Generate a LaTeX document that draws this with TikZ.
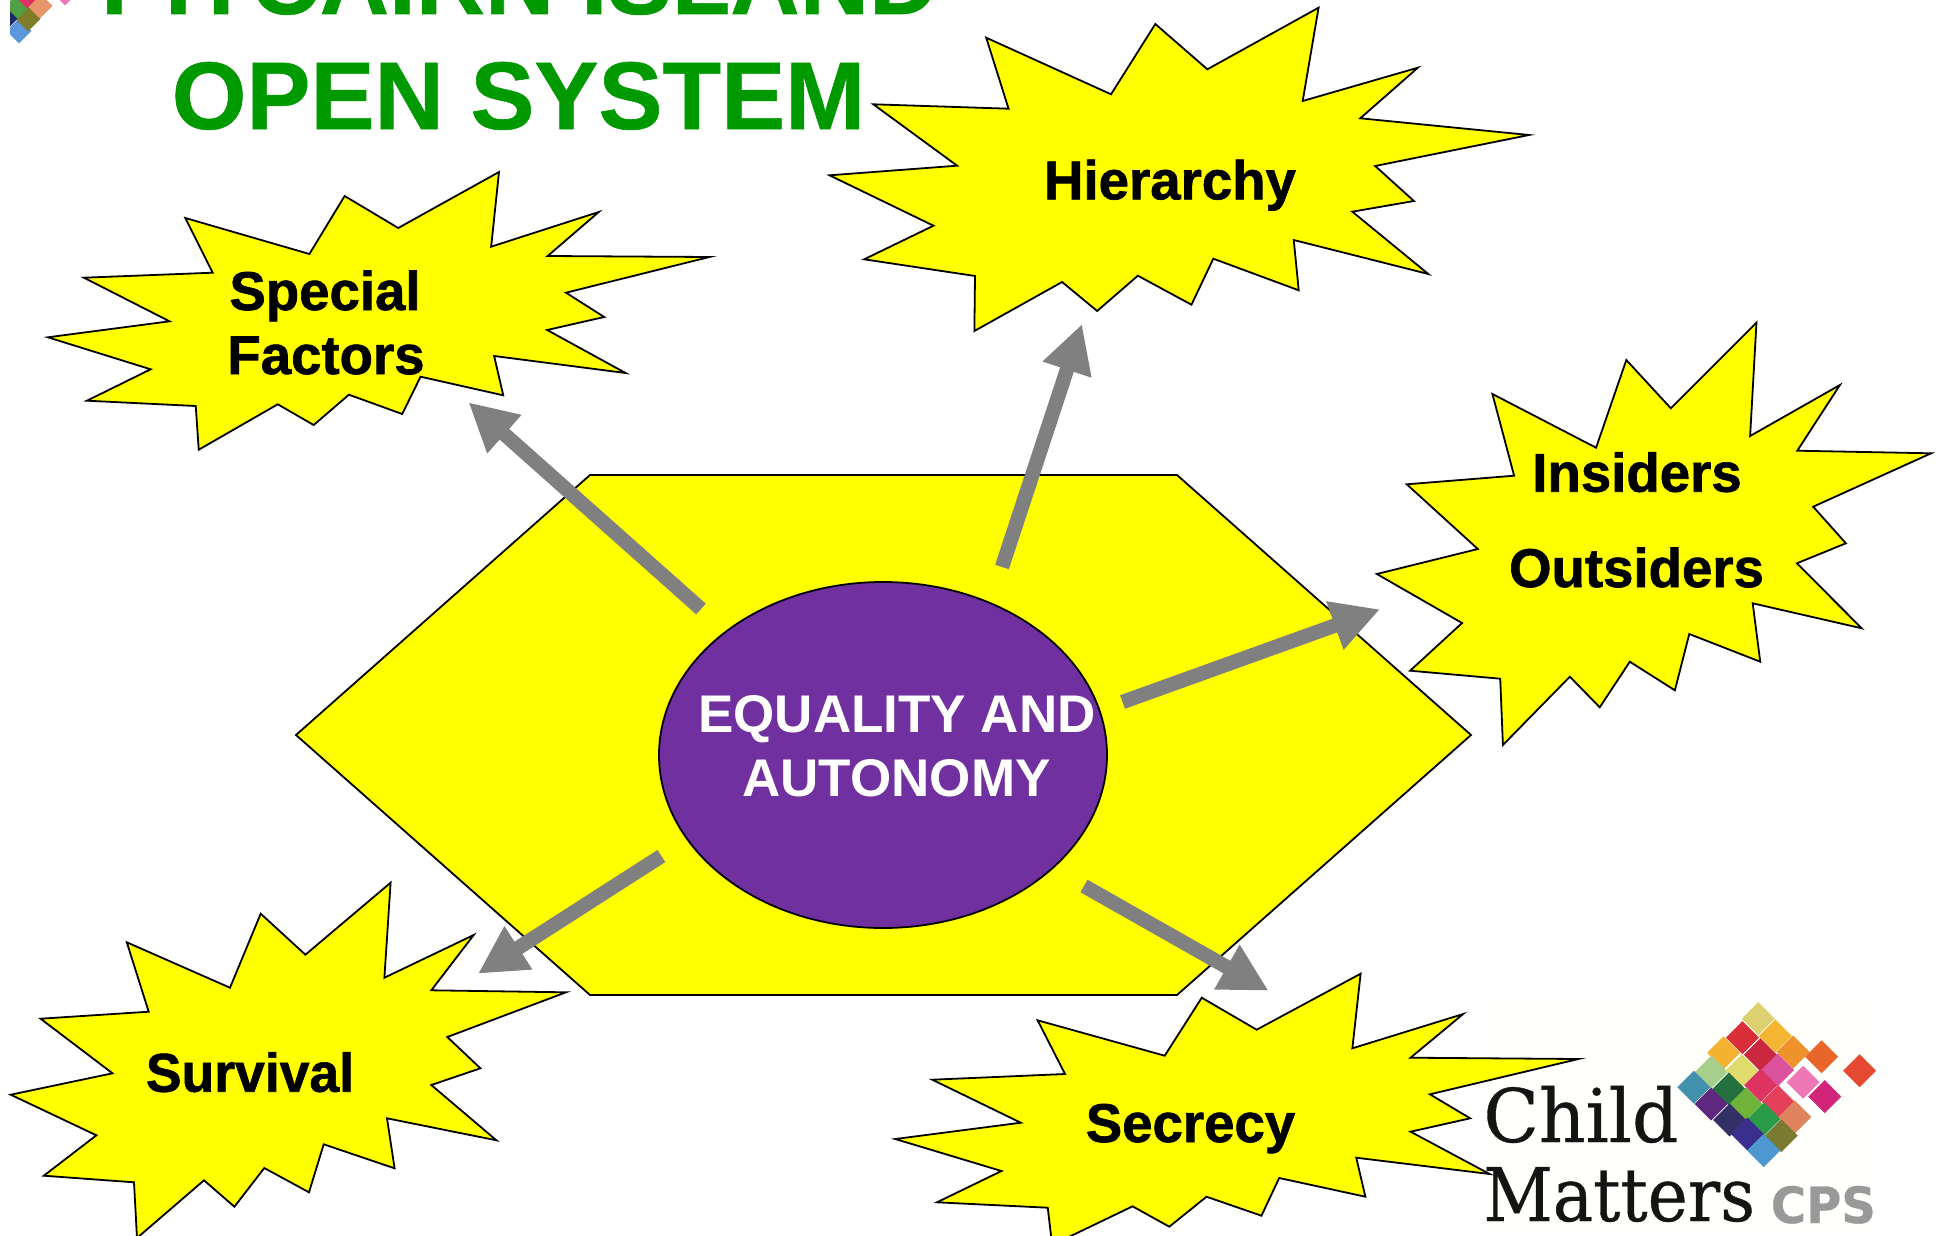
\documentclass[tikz,border=0pt]{standalone}
\usepackage{fontspec}
\usetikzlibrary{arrows.meta,shapes.geometric}
\setmainfont{Liberation Sans}
\newfontfamily\labfont[FakeBold=1.2]{Liberation Sans Bold}
\newfontfamily\titlefont[FakeBold=0.6]{Liberation Sans Bold}
\newfontfamily\plainbold{Liberation Sans Bold}
\newfontfamily\logofont[FakeBold=0.5]{DejaVu Serif}
\newfontfamily\cpsfont[FakeBold=0.6]{DejaVu Sans Bold}
\definecolor{titlegreen}{HTML}{009900}
\definecolor{corepurple}{HTML}{7030A0}
\definecolor{arrowgray}{HTML}{808080}
\definecolor{burstyellow}{RGB}{255,255,0}
\tikzset{
  burst/.style={draw=black,fill=burstyellow,line width=0.9pt,miter limit=25,line join=miter},
  label text/.style={font=\labfont\fontsize{27.3}{30}\selectfont,text=black,anchor=base,inner sep=0pt},
  core text/.style={font=\plainbold\fontsize{26.5}{30}\selectfont,text=white,anchor=base,inner sep=0pt},
  title text/.style={font=\titlefont\fontsize{48}{50}\selectfont,text=titlegreen,anchor=base,inner sep=0pt},
  flow/.style={draw=arrowgray,line width=7.2pt,-{Triangle[length=24pt,width=24pt]}},
  logo word/.style={font=\logofont\fontsize{37}{40}\selectfont,text=black!92,anchor=base west,inner sep=0pt},
}
\begin{document}
\begin{tikzpicture}[x=0.5pt,y=-0.5pt]
\useasboundingbox (0,0) rectangle (1937,1236);
\clip (0,0) rectangle (1937,1236);
% top-left logo fragment
\begin{scope}
\clip (10,-5) rectangle (80,50);
\foreach \px/\py/\col in {19/31/5B97DC,28/19/7F7D2A,17/7/4EA043,40/6/E8956A,27/-4/DC3360,5/19/1F2A6B,65/-7/EE78B5}{
  \definecolor{tmpc}{HTML}{\col}
  \fill[tmpc] ({\px-12.5},\py) -- (\px,{\py-12.5}) -- ({\px+12.5},\py) -- (\px,{\py+12.5}) -- cycle;
}
\end{scope}
% title
\node[title text] (title1) at (519.7,14) {PITCAIRN ISLAND};
\node[title text] (title2) at (518.5,129) {OPEN SYSTEM};
% bottom-right logo background
\fill[white!99!burstyellow] (1484,1003) rectangle (1876,1230);
% hexagon
\draw[burst] (296,735) -- (590,475) -- (1177,475) -- (1471,735) -- (1177,995) -- (590,995) -- cycle;
% core
\node[ellipse,draw=black,fill=corepurple,line width=0.9pt,minimum width=224pt,minimum height=173pt,inner sep=0pt] (core) at (883,755) {};
\node[core text] (core1) at (897,732) {EQUALITY AND};
\node[core text] (core2) at (896.5,796) {AUTONOMY};
% Special Factors
\begin{scope}[x=0.4963pt,xshift=0.6pt]
\draw[burst] (185.5,218) -- (310.5,254) -- (346,196) -- (400,228) -- (501.5,172) -- (493.6,246.7) -- (602,212) -- (550.5,256) -- (713.4,257) -- (569,292.7) -- (607.5,317) -- (550,330) -- (629,373) -- (496.6,356) -- (505.8,395.3) -- (422.5,376.7) -- (404,414) -- (350.3,394.7) -- (314.8,425) -- (278.6,404.3) -- (199,449.7) -- (196,406) -- (86.3,400.7) -- (150.6,369.3) -- (47,337.3) -- (169.6,321.3) -- (83.3,277.7) -- (213,272.7) -- cycle;
\end{scope}
\node[label text] (special) at (325,310) {Special};
\node[label text] (factors) at (326,374) {Factors};
% Hierarchy
\begin{scope}[x=0.4965pt,xshift=3.4pt]
\draw[burst] (986.3,37.7) -- (1112,94.3) -- (1156.6,24) -- (1209,69.3) -- (1321,7.7) -- (1305,101) -- (1421,67.7) -- (1363,118.3) -- (1533,135) -- (1378,166) -- (1417,201) -- (1355,211.7) -- (1431.5,274) -- (1296,240) -- (1301,290.3) -- (1215,258.7) -- (1193,304.7) -- (1139,275.7) -- (1098,311) -- (1062.7,282) -- (974.4,331) -- (975,276) -- (863.4,259.3) -- (933.2,225.7) -- (828.5,175.3) -- (957,165.7) -- (872.6,104.3) -- (1008.8,108.7) -- cycle;
\end{scope}
\node[label text] (hierarchy) at (1170,199.3) {Hierarchy};
% Insiders Outsiders
\begin{scope}[x=0.4956pt,xshift=6.06pt]
\draw[burst] (1493.4,394) -- (1598,447.7) -- (1628.5,360) -- (1673.4,408.3) -- (1759.8,322.7) -- (1753.4,436) -- (1844,385) -- (1801,450.7) -- (1936,453.3) -- (1817,506.7) -- (1850,543.3) -- (1800.6,563.3) -- (1866,628.3) -- (1756,603.3) -- (1763.6,661.7) -- (1692,634) -- (1677.5,690.3) -- (1632,661.7) -- (1601.7,707.3) -- (1571.5,676.7) -- (1504,745) -- (1501.3,678.7) -- (1410.4,670.7) -- (1462.8,623) -- (1376.8,574) -- (1478.7,549) -- (1407,484.3) -- (1515.3,475.7) -- cycle;
\end{scope}
\node[label text] (insiders) at (1637,491.7) {Insiders};
\node[label text] (outsiders) at (1636.5,587) {Outsiders};
% Survival
\draw[burst] (126.8,942.3) -- (230,987.7) -- (260.7,913.7) -- (305.4,954.7) -- (390.6,882.7) -- (384.4,977.7) -- (473.7,935) -- (431.3,990.3) -- (566,992.3) -- (447.3,1037) -- (480.4,1068.3) -- (431.3,1085) -- (496.4,1140.3) -- (387,1118.3) -- (394.6,1168.3) -- (323.7,1144.3) -- (309,1192.3) -- (264.3,1168) -- (234.4,1206.7) -- (204,1180.3) -- (137,1238) -- (134,1182.3) -- (43.8,1175.7) -- (96.4,1135.3) -- (10.7,1094.7) -- (112.5,1073.3) -- (40.6,1018.7) -- (148.7,1011.7) -- cycle;
\node[label text,xscale=0.98] (survival) at (250,1091.7) {Survival};
% Secrecy
\begin{scope}[x=0.49645pt,xshift=3.8pt]
\draw[burst] (1037.4,1020.3) -- (1165.4,1055.7) -- (1202.7,997.7) -- (1258,1029.7) -- (1362.7,973.7) -- (1354.4,1048.3) -- (1466,1014) -- (1413,1057.7) -- (1582,1059) -- (1432.5,1094.3) -- (1473,1118.3) -- (1413,1131.7) -- (1492.6,1174) -- (1358.3,1157.7) -- (1367.5,1196.7) -- (1280.7,1178) -- (1262.8,1215.7) -- (1207.5,1196.7) -- (1170,1226.7) -- (1133,1206.3) -- (1052,1245) -- (1047.6,1207.7) -- (936,1202.3) -- (1001,1171) -- (894,1139) -- (1020.4,1122.7) -- (931.3,1079.7) -- (1065,1074) -- cycle;
\end{scope}
\node[label text] (secrecy) at (1190.5,1142) {Secrecy};
% arrows
\coordinate (t1) at (701,609);    \coordinate (h1) at (468.5,402.3);
\coordinate (t2) at (1002,567); \coordinate (h2) at (1082,324);
\coordinate (t3) at (1122.5,702); \coordinate (h3) at (1380,609.3);
\coordinate (t4) at (661.4,856);  \coordinate (h4) at (478,973.7);
\coordinate (t5) at (1084,886);   \coordinate (h5) at (1268.6,990.7);
\draw[flow] (t1) -- (h1);
\draw[flow] (t2) -- (h2);
\draw[flow] (t3) -- (h3);
\draw[flow] (t4) -- (h4);
\draw[flow] (t5) -- (h5);
% bottom-right logo
\foreach \px/\py/\col in {1758.2/1018.7/DDD070,1742.5/1037.7/DA2E38,1775.3/1036/F4B530,1723.6/1052.7/F5B231,1760.3/1054.7/C9283F,1793.2/1052/F0922B,1821.6/1056.7/E9662B,1859.6/1070.7/E5492F,1711.3/1072/A7CF8C,1741.8/1070.7/DFDC6D,1777.7/1070/D9529B,1693.8/1087.3/4190AE,1728.8/1089/25703F,1760.6/1085.3/DC3360,1803.1/1082.3/EE78B5,1824.7/1096.7/D2257A,1711/1104/5F2780,1745.9/1104/6FB33B,1778/1101.7/E5405A,1729.5/1120/333065,1764/1119/2A9C48,1794.9/1117/E08460,1747.3/1134/3A2F8C,1781.2/1135.7/7A7B30,1763.7/1150.7/4C98CF}{
  \definecolor{tmpc}{HTML}{\col}
  \fill[tmpc] ({\px-16.5},\py) -- (\px,{\py-16.5}) -- ({\px+16.5},\py) -- (\px,{\py+16.5}) -- cycle;
}
\node[logo word,xscale=0.98] (child) at (1483,1142) {Child};
\node[logo word,xscale=0.916] (matters) at (1483,1221) {Matters};
\node[font=\cpsfont\fontsize{25}{28}\selectfont,text=black!40,anchor=base west,inner sep=0pt,xscale=0.96] (cps) at (1770.5,1223) {CPS};
\end{tikzpicture}
\end{document}
